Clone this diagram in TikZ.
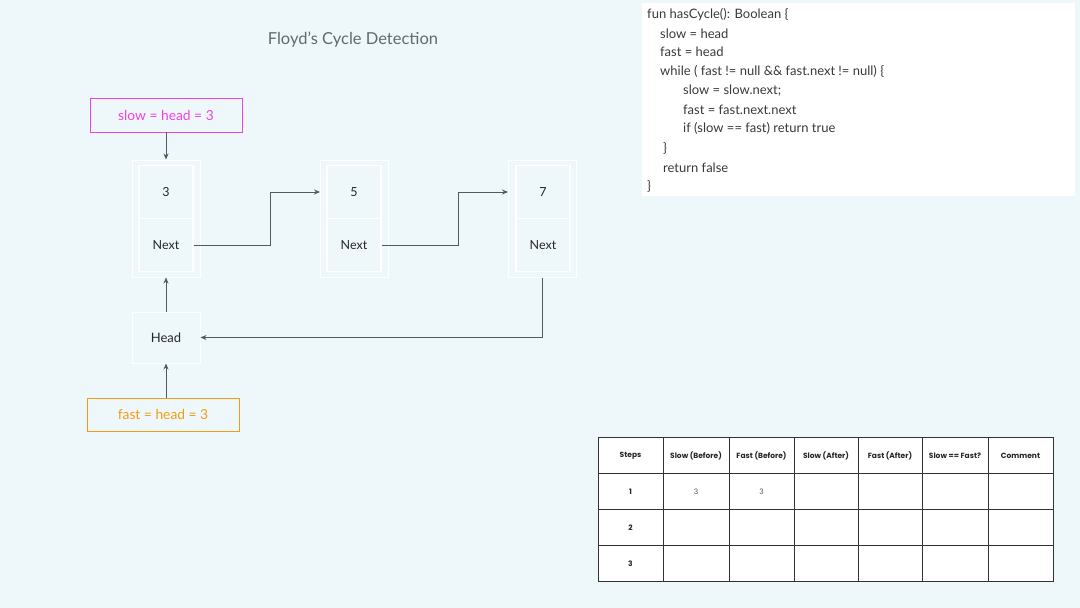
\documentclass[tikz,border=0pt]{standalone}
\usepackage{fontspec}
\setmainfont{Lato}
\newfontfamily\popfont{Poppins}
\usetikzlibrary{arrows.meta}
\definecolor{bgc}{HTML}{EEF8FA}
\definecolor{pinkc}{HTML}{F540E6}
\definecolor{orangec}{HTML}{F39C12}
\definecolor{arrc}{HTML}{4F5B5E}
\definecolor{titlec}{HTML}{5F6B6D}
\definecolor{codec}{HTML}{3A3A3A}
\definecolor{gridc}{HTML}{333333}
\tikzset{
  outerbox/.style={draw=white, line width=1pt, minimum width=68pt, minimum height=117pt, inner sep=0pt},
  cellbox/.style={draw=white, line width=1.2pt, minimum width=54pt, minimum height=53pt, inner sep=0pt, font=\fontsize{12.5}{12}\selectfont, text=black!85},
  arr/.style={draw=arrc, line width=0.9pt, -{Stealth[length=6pt,width=5pt]}},
  codeline/.style={anchor=west, inner sep=0pt, font=\fontsize{13}{14}\selectfont, text=codec},
  hdr/.style={font=\popfont\bfseries\fontsize{7.5}{8}\selectfont, text=black!85, inner sep=0pt},
  rowlbl/.style={font=\popfont\bfseries\fontsize{7.5}{8}\selectfont, text=black!85, inner sep=0pt},
  valtxt/.style={font=\popfont\fontsize{7.5}{8}\selectfont, text=black!65, inner sep=0pt}
}
\begin{document}
\begin{tikzpicture}[x=1pt,y=-1pt]
\fill[bgc] (0,0) rectangle (1080,608);
\useasboundingbox (0,0) rectangle (1080,608);

% title
\node[text=titlec, font=\fontsize{16.5}{18}\selectfont] (title) at (353,39.5) {Floyd’s Cycle Detection};

% code box
\node[fill=white, draw=none, minimum width=433pt, minimum height=193pt, inner sep=0pt, anchor=north west] (codebox) at (642,3) {};
\node[codeline] (c1) at (647,14.5) {fun hasCycle(): Boolean \{};
\node[codeline] (c2) at (660,33.5) {slow = head};
\node[codeline] (c3) at (660,52) {fast = head};
\node[codeline] (c4) at (660,71.5) {while ( fast != null \&\& fast.next != null) \{};
\node[codeline] (c5) at (683,90.5) {slow = slow.next;};
\node[codeline] (c6) at (683,109.5) {fast = fast.next.next};
\node[codeline] (c7) at (683,128.5) {if (slow == fast) return true};
\node[codeline] (c8) at (663,148.5) {\}};
\node[codeline] (c9) at (663,167.5) {return false};
\node[codeline] (c10) at (647,186.5) {\}};

% linked list nodes
\node[outerbox] (n3) at (166,218.5) {};
\node[cellbox] (n3v) at (166,192) {\raisebox{-1.2pt}{3}};
\node[cellbox] (n3n) at (166,245) {\raisebox{-1.2pt}{Next}};
\node[outerbox] (n5) at (354.5,218.5) {};
\node[cellbox] (n5v) at (354,192) {\raisebox{-1.2pt}{5}};
\node[cellbox] (n5n) at (354,245) {\raisebox{-1.2pt}{Next}};
\node[outerbox] (n7) at (542.5,218.5) {};
\node[cellbox] (n7v) at (543,192) {\raisebox{-1.2pt}{7}};
\node[cellbox] (n7n) at (543,245) {\raisebox{-1.2pt}{Next}};

\node[draw=white, line width=1pt, minimum width=68pt, minimum height=51pt, inner sep=0pt, font=\fontsize{13}{13}\selectfont, text=black!85] (head) at (166,337.5) {\raisebox{-1.2pt}{Head}};

% pointer labels
\node[draw=pinkc, line width=0.9pt, minimum width=152pt, minimum height=34pt, inner sep=0pt, text=pinkc, font=\fontsize{13.8}{14}\selectfont] (slow) at (166,115) {\raisebox{-1.5pt}{slow = head = 3}};
\node[draw=orangec, line width=0.9pt, minimum width=152pt, minimum height=33pt, inner sep=0pt, text=orangec, font=\fontsize{13.8}{14}\selectfont] (fast) at (163,414.5) {\raisebox{-1.5pt}{fast = head = 3}};

% connectors
\draw[arr] (slow.south) -- (n3.north);
\draw[arr] (n3n.east) -- ++(77,0) |- (n5.west |- n5v.center);
\draw[arr] (n5n.east) -- ++(77,0) |- (n7.west |- n7v.center);
\draw[arr] (n7.south) |- (head.east);
\draw[arr] (head.north) -- (n3.south);
\draw[arr] (head.south |- fast.north) -- (head.south);

% table
\fill[white] (598,437) rectangle (1053,581);
\draw[gridc, line width=1pt] (598,437) rectangle (1053,581);
\foreach \xx in {663,729,794,858,922,988} \draw[gridc, line width=1pt] (\xx,437) -- (\xx,581);
\foreach \yy in {473,509,545} \draw[gridc, line width=1pt] (598,\yy) -- (1053,\yy);
\node[hdr] (h1) at (630.5,455.5) {Steps};
\node[hdr] (h2) at (696,455.5) {Slow (Before)};
\node[hdr] (h3) at (761.5,455.5) {Fast (Before)};
\node[hdr] (h4) at (826,455.5) {Slow (After)};
\node[hdr] (h5) at (890,455.5) {Fast (After)};
\node[hdr] (h6) at (955,455.5) {Slow == Fast?};
\node[hdr] (h7) at (1020.5,455.5) {Comment};
\node[rowlbl] (r1) at (630.5,491.5) {1};
\node[rowlbl] (r2) at (630.5,527.5) {2};
\node[rowlbl] (r3) at (630.5,563.5) {3};
\node[valtxt] (v1) at (696,491.5) {3};
\node[valtxt] (v2) at (761.5,491.5) {3};
\end{tikzpicture}
\end{document}
